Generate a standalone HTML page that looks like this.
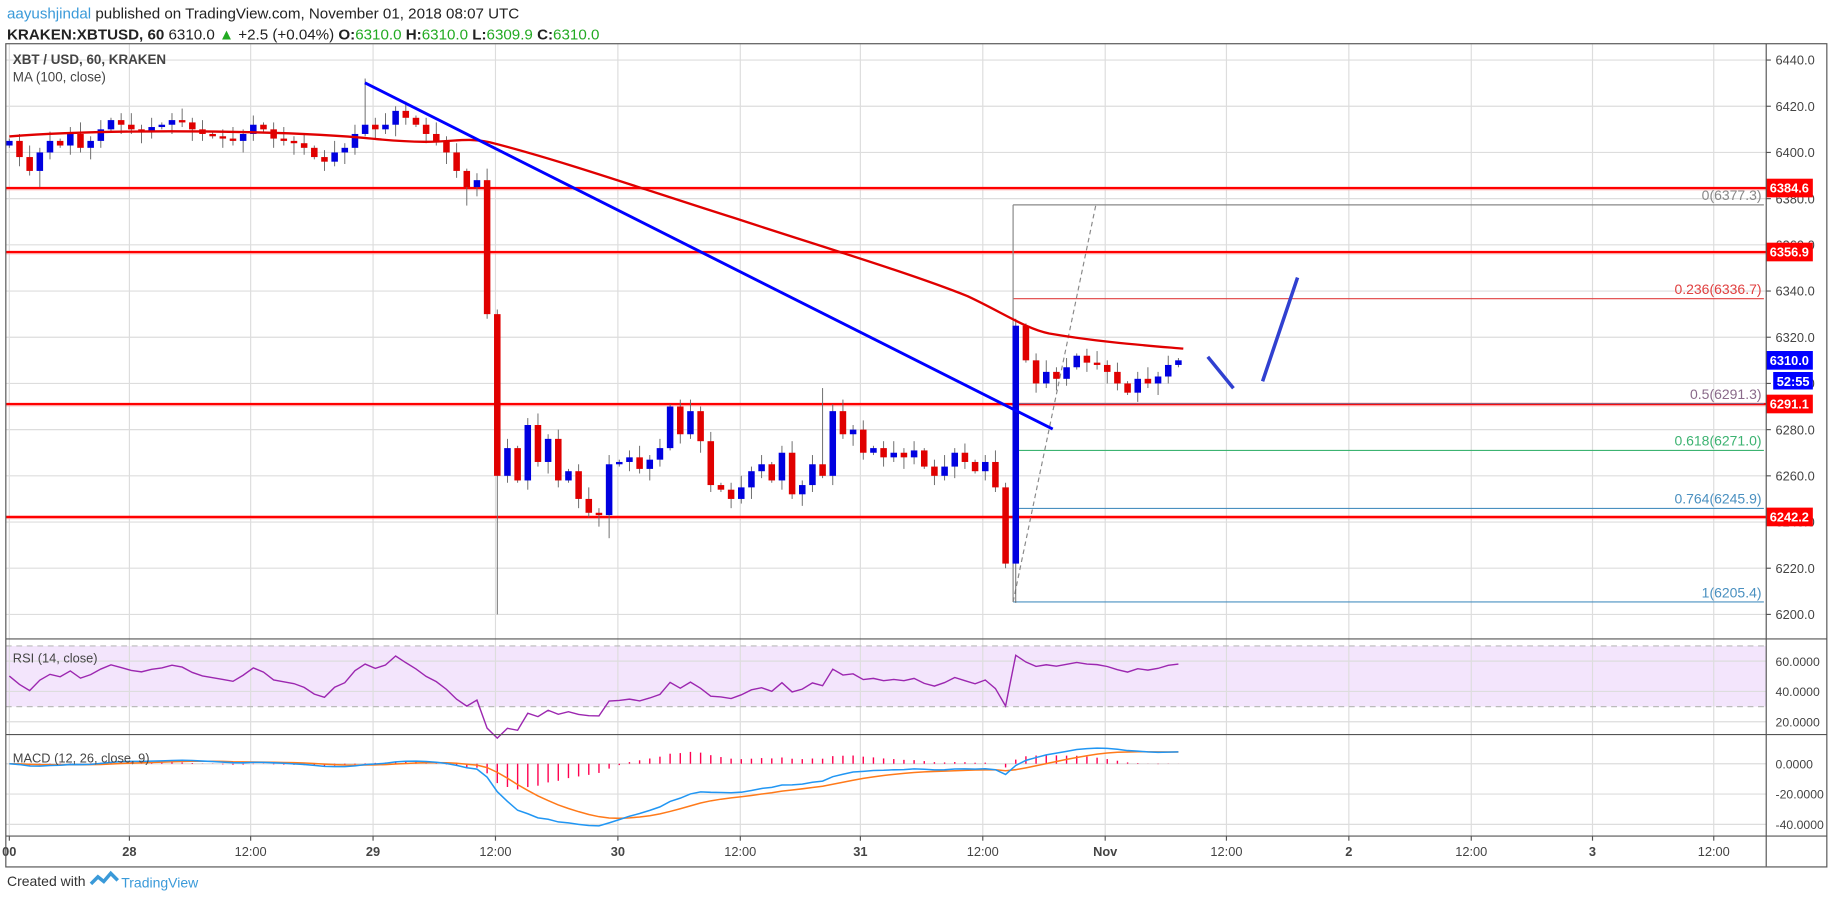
<!DOCTYPE html>
<html><head><meta charset="utf-8"><style>
html,body{margin:0;padding:0;background:#fff;width:1828px;height:899px;overflow:hidden}
svg{display:block;font-family:"Liberation Sans",sans-serif}
</style></head><body>
<svg id="s" width="1828" height="899" viewBox="0 0 1568 771" preserveAspectRatio="none" xmlns="http://www.w3.org/2000/svg">
<rect width="1568" height="771" fill="#fff"/>
<text x="6" y="16" font-size="13" fill="#222"><tspan fill="#3a9ad9">aayushjindal</tspan> published on TradingView.com, November 01, 2018 08:07 UTC</text>
<text x="6" y="34" font-size="13" fill="#222"><tspan font-weight="bold">KRAKEN:XBTUSD, 60</tspan> 6310.0 <tspan fill="#2a2">▲</tspan> +2.5 (+0.04%) <tspan font-weight="bold">O:</tspan><tspan fill="#2a2">6310.0</tspan> <tspan font-weight="bold">H:</tspan><tspan fill="#2a2">6310.0</tspan> <tspan font-weight="bold">L:</tspan><tspan fill="#2a2">6309.9</tspan> <tspan font-weight="bold">C:</tspan><tspan fill="#2a2">6310.0</tspan></text>
<g id="grid"></g>
<g id="draw"></g>
<rect x="5" y="37.5" width="1562" height="706" fill="none" stroke="#555" stroke-width="1"/>
<line x1="1515" y1="37.5" x2="1515" y2="743" stroke="#555"/>
<line x1="5" y1="548" x2="1567" y2="548" stroke="#555"/>
<line x1="5" y1="630" x2="1567" y2="630" stroke="#555"/>
<line x1="5" y1="717" x2="1567" y2="717" stroke="#555"/>
<text x="11" y="55" font-size="11.5" font-weight="bold" fill="#444">XBT / USD, 60, KRAKEN</text>
<text x="11" y="70" font-size="11.5" fill="#444">MA (100, close)</text>
<text x="11" y="568" font-size="11" fill="#444">RSI (14, close)</text>
<text x="11" y="654" font-size="11" fill="#444">MACD (12, 26, close, 9)</text>
<text x="6" y="760" font-size="12" fill="#333">Created with</text>
<path d="M78 758 l6 -6 l5 4 l6 -7 l6 6" fill="none" stroke="#3a9ad9" stroke-width="3"/>
<text x="104" y="761" font-size="12" fill="#3a9ad9">TradingView</text>
</svg>
<script>
var S=document.getElementById('s'),G=document.getElementById('grid'),D=document.getElementById('draw');
var NS='http://www.w3.org/2000/svg';
function el(p,t,a,txt){var e=document.createElementNS(NS,t);for(var k in a)e.setAttribute(k,a[k]);if(txt!=null)e.textContent=txt;p.appendChild(e);return e;}
function Y(p){return 51.5+(6440-p)*1.981;}
function RY(r){return 567+(60-r)*1.3;}
function MY(m){return 655-m*1.3;}
el(G,'rect',{x:5,y:RY(70),width:1510,height:RY(30)-RY(70),fill:'#f3e5fc'});
var vx=[8,111,215,320,425,530,635,738,843,948,1052,1157,1262,1366,1470];
var vl=['00','28','12:00','29','12:00','30','12:00','31','12:00','Nov','12:00','2','12:00','3','12:00'];
vx.forEach(function(x,i){el(G,'line',{x1:x,y1:38,x2:x,y2:717,stroke:'#ddd'});
 el(G,'line',{x1:x,y1:717,x2:x,y2:721,stroke:'#555'});
 el(G,'text',{x:x,y:734,'font-size':11,fill:'#444','text-anchor':'middle','font-weight':(vl[i].length<4?'bold':'normal')},vl[i]);});
for(var p=6200;p<=6440;p+=20){var y=Y(p);el(G,'line',{x1:5,y1:y,x2:1515,y2:y,stroke:'#ddd'});
 el(G,'line',{x1:1515,y1:y,x2:1519,y2:y,stroke:'#555'});el(G,'text',{x:1523,y:y+4,'font-size':11,fill:'#444'},p.toFixed(1));}
[60,40,20].forEach(function(r){var y=RY(r);el(G,'line',{x1:5,y1:y,x2:1515,y2:y,stroke:'#ddd'});el(G,'text',{x:1523,y:y+4,'font-size':10.5,fill:'#444'},r.toFixed(4));});
[70,30].forEach(function(r){var y=RY(r);el(G,'line',{x1:5,y1:y,x2:1515,y2:y,stroke:'#bbb','stroke-dasharray':'5,4'});});
[[0,'0.0000'],[-20,'-20.0000'],[-40,'-40.0000']].forEach(function(m){var y=MY(m[0]);el(G,'line',{x1:5,y1:y,x2:1515,y2:y,stroke:'#ddd'});el(G,'text',{x:1523,y:y+4,'font-size':10.5,fill:'#444'},m[1]);});
var C=[6405,6398,6392,6400,6405,6403,6408,6402,6405,6410,6414,6412,6410,6409,6411,6412,6414,6413,6410,6408,6407,6406,6405,6408,6412,6410,6406,6405,6404,6402,6398,6396,6400,6402,6408,6412,
6410,6412,6418,6415,6412,6408,6405,6400,6392,6385,6388,6330,6260,
6272,6258,6282,6266,6276,6258,6262,6250,6244,6243,6265,6266,6268,6263,6267,6272,6290,6278,6288,6275,6256,6254,6250,6255,6262,6265,6258,6270,6252,6256,6265,6260,6288,6278,6280,6270,6272,6268,6270,6268,6271,6264,6260,6264,6270,6266,6262,6266,6255,
6222,6325,6310,6300,6305,6302,6307,6312,6309,6308,6305,6300,6296,6302,6300,6303,6308,6310];
function X(i){return 8+i*8.72;}
[6384.6,6356.9,6291.1,6242.2].forEach(function(h){var y=Y(h);el(D,'line',{x1:5,y1:y,x2:1515,y2:y,stroke:'#f00','stroke-width':2});el(D,'line',{x1:5,y1:y+1.5,x2:1515,y2:y+1.5,stroke:'#f99','stroke-width':0.8});});
var fib=[[6377.3,'0(6377.3)','#888'],[6336.7,'0.236(6336.7)','#e04040'],[6291.3,'0.5(6291.3)','#8a6a8a'],[6271,'0.618(6271.0)','#3cb371'],[6245.9,'0.764(6245.9)','#4a90c0'],[6205.4,'1(6205.4)','#4a90c0']];
fib.forEach(function(f){var y=Y(f[0]);el(D,'line',{x1:869,y1:y,x2:1513,y2:y,stroke:f[2],'stroke-width':1});el(D,'text',{x:1511,y:y-4,'font-size':12,fill:f[2],'text-anchor':'end'},f[1]);});
el(D,'line',{x1:869,y1:Y(6377.3),x2:869,y2:Y(6205.4),stroke:'#888'});
el(D,'line',{x1:869,y1:Y(6205.4),x2:940,y2:Y(6377.3),stroke:'#888','stroke-dasharray':'4,3'});
for(var i=0;i<C.length;i++){var o=(i==0?6403:C[i-1]),c=C[i];var hi=Math.max(o,c)+((i*7)%5)+1,lo=Math.min(o,c)-((i*3)%5)-1;
 if(i==48)lo=6200;if(i==99){hi=6328;lo=6205;}if(i==35)hi=6432;if(i==98)lo=6220;if(i==3)lo=6385;if(i==45)lo=6377;if(i==80)hi=6298;if(i==59)lo=6233;
 var col=c>=o?'#0000e0':'#e00000';var x=X(i);
 el(D,'line',{x1:x,y1:Y(hi),x2:x,y2:Y(lo),stroke:'#666','stroke-width':0.8});
 var yt=Y(Math.max(o,c)),yb=Y(Math.min(o,c));el(D,'rect',{x:x-2.8,y:yt,width:5.6,height:Math.max(1,yb-yt),fill:col});}
el(D,'path',{d:'M8,117 C100,110 250,112 320,119 S390,116 420,122 C480,137 560,165 630,187 C700,210 780,234 830,254 C860,268 880,282 900,286 C940,293 980,296 1015,299',fill:'none',stroke:'#e00000','stroke-width':2});
el(D,'line',{x1:313,y1:71,x2:903,y2:368,stroke:'#0000ff','stroke-width':2.5});
el(D,'line',{x1:1036,y1:306,x2:1058,y2:333,stroke:'#3040d0','stroke-width':3});
el(D,'line',{x1:1083,y1:327,x2:1113,y2:238,stroke:'#3040d0','stroke-width':3});
function lab(p,txt,col){var y=Y(p);el(D,'rect',{x:1515,y:y-8,width:40,height:16,fill:col});el(D,'text',{x:1518,y:y+4,'font-size':11,'font-weight':'bold',fill:'#fff'},txt);}
lab(6384.6,'6384.6','#f00');lab(6356.9,'6356.9','#f00');lab(6291.1,'6291.1','#f00');lab(6242.2,'6242.2','#f00');
lab(6310,'6310.0','#0000ff');el(D,'rect',{x:1521,y:Y(6310)+10,width:34,height:15,fill:'#0000ff'});el(D,'text',{x:1524,y:Y(6310)+22,'font-size':11,'font-weight':'bold',fill:'#fff'},'52:55');
var pre=[6405,6400,6408,6402,6398,6404,6410,6406,6402,6400,6405,6408,6404,6400,6403];
var CC=pre.concat(C),off=pre.length;
var g=0,l=0,pts=[];for(i=1;i<CC.length;i++){var d=CC[i]-CC[i-1];var up=Math.max(d,0),dn=Math.max(-d,0);if(i<=14){g+=up/14;l+=dn/14;}else{g=(g*13+up)/14;l=(l*13+dn)/14;}
 if(i>=off){var rs=l==0?100:100-100/(1+g/l);pts.push(X(i-off)+','+RY(rs).toFixed(1));}}
el(D,'polyline',{points:pts.join(' '),fill:'none',stroke:'#9c27b0','stroke-width':1.2});
function ema(a,n){var k=2/(n+1),o=[a[0]];for(var j=1;j<a.length;j++)o.push(a[j]*k+o[j-1]*(1-k));return o;}
var e12=ema(C,12),e26=ema(C,26),m=e12.map(function(v,j){return v-e26[j];}),sg=ema(m,9);
var mp=[],sp=[];for(i=0;i<C.length;i++){mp.push(X(i)+','+MY(m[i]).toFixed(1));sp.push(X(i)+','+MY(sg[i]).toFixed(1));
 var h=m[i]-sg[i];el(D,'line',{x1:X(i),y1:MY(0),x2:X(i),y2:MY(h),stroke:'#ff0050','stroke-width':1.2});}
el(D,'polyline',{points:sp.join(' '),fill:'none',stroke:'#ff7a1a','stroke-width':1.3});
el(D,'polyline',{points:mp.join(' '),fill:'none',stroke:'#2196f3','stroke-width':1.3});
</script>
</body></html>
